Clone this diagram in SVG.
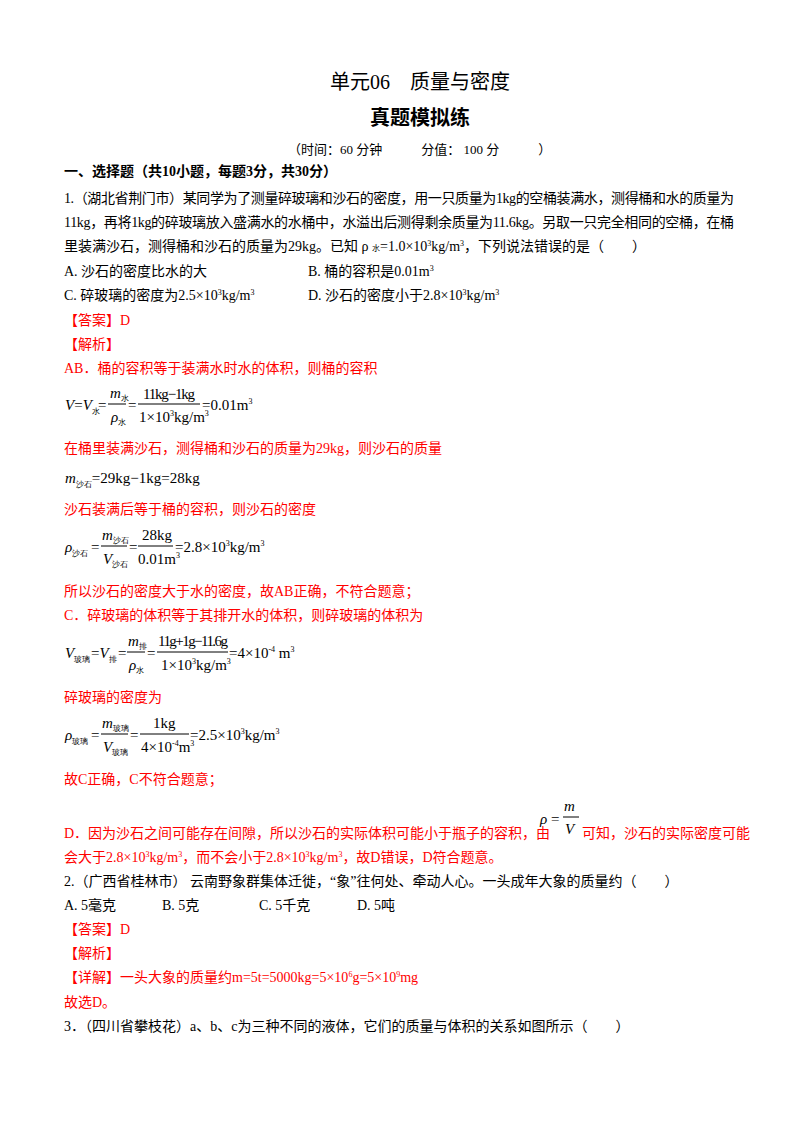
<svg xmlns="http://www.w3.org/2000/svg" width="800" height="1132" viewBox="0 0 800 1132">
<style>
text{font-family:"Liberation Serif","Noto Sans CJK SC",serif;font-size:14px;fill:#000}
.r{fill:#f00}
.b{font-weight:bold}
.m{font-family:"Liberation Serif",serif;font-size:15px}
.i{font-style:italic}
.s{font-size:8px;font-style:normal}
line{stroke:#000;stroke-width:1}
</style>
<rect width="800" height="1132" fill="#fff"/>
<g id="header">
<text x="420" y="89" text-anchor="middle" style="font-size:20px">单元06　质量与密度</text>
<text x="420" y="125" text-anchor="middle" class="b" style="font-size:20px">真题模拟练</text>
<text x="288" y="154" style="font-size:13px">（时间：60 分钟　　　分值： 100 分　　　）</text>
<text x="64" y="176" class="b">一、选择题（共10小题，每题3分，共30分）</text>
</g>
<g id="q1">
<text x="64" y="203" textLength="670">1.（湖北省荆门市）某同学为了测量碎玻璃和沙石的密度，用一只质量为1kg的空桶装满水，测得桶和水的质量为</text>
<text x="64" y="227" textLength="670">11kg，再将1kg的碎玻璃放入盛满水的水桶中，水溢出后测得剩余质量为11.6kg。另取一只完全相同的空桶，在桶</text>
<text x="64" y="251">里装满沙石，测得桶和沙石的质量为29kg。已知 ρ <tspan class="s">水</tspan>=1.0×10<tspan class="s" dy="-5">3</tspan><tspan dy="5">kg/m</tspan><tspan class="s" dy="-5">3</tspan><tspan dy="5">，下列说法错误的是（　　）</tspan></text>
<text x="64" y="276">A.  沙石的密度比水的大</text>
<text x="308" y="276">B.  桶的容积是0.01m<tspan class="s" dy="-5">3</tspan></text>
<text x="64" y="300">C.  碎玻璃的密度为2.5×10<tspan class="s" dy="-5">3</tspan><tspan dy="5">kg/m</tspan><tspan class="s" dy="-5">3</tspan></text>
<text x="308" y="300">D.  沙石的密度小于2.8×10<tspan class="s" dy="-5">3</tspan><tspan dy="5">kg/m</tspan><tspan class="s" dy="-5">3</tspan></text>
<text x="64" y="325" class="r">【答案】D</text>
<text x="64" y="349" class="r">【解析】</text>
<text x="64" y="373" class="r">AB．桶的容积等于装满水时水的体积，则桶的容积</text>
</g>
<g id="formulas">
<text x="65" y="410" class="m"><tspan class="i">V</tspan>=<tspan class="i">V</tspan><tspan class="s" dy="4">水</tspan></text>
<text x="98" y="410" class="m">=</text>
<text x="110" y="398" class="m i">m<tspan class="s" dy="3">水</tspan></text>
<line x1="108" y1="404" x2="126" y2="404"/>
<text x="111" y="422" class="m i">ρ<tspan class="s" dy="3">水</tspan></text>
<text x="128" y="410" class="m">=</text>
<text x="143" y="399" class="m" textLength="52">11kg−1kg</text>
<line x1="138" y1="404" x2="200" y2="404"/>
<text x="139" y="422" class="m">1×10<tspan class="s" dy="-6">3</tspan><tspan dy="6">kg/m</tspan><tspan class="s" dy="-6">3</tspan></text>
<text x="202" y="410" class="m">=0.01m<tspan class="s" dy="-6">3</tspan></text>

<text x="64" y="453" class="r">在桶里装满沙石，测得桶和沙石的质量为29kg，则沙石的质量</text>
<text x="65" y="483" class="m"><tspan class="i">m</tspan><tspan class="s" dy="4">沙石</tspan><tspan dy="-4">=29kg−1kg=28kg</tspan></text>
<text x="64" y="514" class="r">沙石装满后等于桶的容积，则沙石的密度</text>

<text x="65" y="552" class="m i">ρ<tspan class="s" dy="4">沙石</tspan></text>
<text x="91" y="552" class="m">=</text>
<text x="102" y="540" class="m i">m<tspan class="s" dy="3">沙石</tspan></text>
<line x1="101" y1="546" x2="127" y2="546"/>
<text x="103" y="564" class="m i">V<tspan class="s" dy="3">沙石</tspan></text>
<text x="129" y="552" class="m">=</text>
<text x="142" y="540" class="m">28kg</text>
<line x1="138" y1="546" x2="173" y2="546"/>
<text x="138" y="564" class="m">0.01m<tspan class="s" dy="-6">3</tspan></text>
<text x="175" y="552" class="m">=2.8×10<tspan class="s" dy="-6">3</tspan><tspan dy="6">kg/m</tspan><tspan class="s" dy="-6">3</tspan></text>

<text x="64" y="596" class="r">所以沙石的密度大于水的密度，故AB正确，不符合题意；</text>
<text x="64" y="620" class="r">C．碎玻璃的体积等于其排开水的体积，则碎玻璃的体积为</text>

<text x="65" y="658" class="m i">V<tspan class="s" dy="4">玻璃</tspan></text>
<text x="91" y="658" class="m">=<tspan class="i">V</tspan><tspan class="s" dy="4">排</tspan></text>
<text x="118" y="658" class="m">=</text>
<text x="128" y="646" class="m i">m<tspan class="s" dy="3">排</tspan></text>
<line x1="127" y1="652" x2="145" y2="652"/>
<text x="129" y="670" class="m i">ρ<tspan class="s" dy="3">水</tspan></text>
<text x="147" y="658" class="m">=</text>
<text x="158" y="646" class="m" textLength="70">11g+1g−11.6g</text>
<line x1="157" y1="652" x2="228" y2="652"/>
<text x="161" y="670" class="m">1×10<tspan class="s" dy="-6">3</tspan><tspan dy="6">kg/m</tspan><tspan class="s" dy="-6">3</tspan></text>
<text x="229" y="658" class="m">=4×10<tspan class="s" dy="-6">-4</tspan><tspan dy="6"> m</tspan><tspan class="s" dy="-6">3</tspan></text>

<text x="64" y="702" class="r">碎玻璃的密度为</text>

<text x="65" y="740" class="m i">ρ<tspan class="s" dy="4">玻璃</tspan></text>
<text x="91" y="740" class="m">=</text>
<text x="102" y="728" class="m i">m<tspan class="s" dy="3">玻璃</tspan></text>
<line x1="101" y1="734" x2="128" y2="734"/>
<text x="103" y="752" class="m i">V<tspan class="s" dy="3">玻璃</tspan></text>
<text x="130" y="740" class="m">=</text>
<text x="153" y="728" class="m">1kg</text>
<line x1="140" y1="734" x2="189" y2="734"/>
<text x="141" y="752" class="m">4×10<tspan class="s" dy="-6">-4</tspan><tspan dy="6">m</tspan><tspan class="s" dy="-6">3</tspan></text>
<text x="190" y="740" class="m">=2.5×10<tspan class="s" dy="-6">3</tspan><tspan dy="6">kg/m</tspan><tspan class="s" dy="-6">3</tspan></text>

<text x="64" y="784" class="r">故C正确，C不符合题意；</text>

<text x="540" y="824" class="m i">ρ</text>
<text x="551" y="824" class="m">=</text>
<text x="564" y="811" class="m i">m</text>
<line x1="563" y1="817" x2="579" y2="817"/>
<text x="565" y="834" class="m i">V</text>
</g>
<g id="q1d">
<text x="64" y="838" class="r">D．因为沙石之间可能存在间隙，所以沙石的实际体积可能小于瓶子的容积，由</text>
<text x="582" y="838" class="r">可知，沙石的实际密度可能</text>
<text x="64" y="862" class="r">会大于2.8×10<tspan class="s" dy="-5">3</tspan><tspan dy="5">kg/m</tspan><tspan class="s" dy="-5">3</tspan><tspan dy="5">，而不会小于2.8×10</tspan><tspan class="s" dy="-5">3</tspan><tspan dy="5">kg/m</tspan><tspan class="s" dy="-5">3</tspan><tspan dy="5">，故D错误，D符合题意。</tspan></text>
</g>
<g id="q2">
<text x="64" y="886">2.（广西省桂林市） 云南野象群集体迁徙，“象”往何处、牵动人心。一头成年大象的质量约（　　）</text>
<text x="64" y="910">A.  5毫克</text>
<text x="162" y="910">B.  5克</text>
<text x="259" y="910">C.  5千克</text>
<text x="357" y="910">D.  5吨</text>
<text x="64" y="934" class="r">【答案】D</text>
<text x="64" y="958" class="r">【解析】</text>
<text x="64" y="982" class="r">【详解】一头大象的质量约m=5t=5000kg=5×10<tspan class="s" dy="-5">6</tspan><tspan dy="5">g=5×10</tspan><tspan class="s" dy="-5">9</tspan><tspan dy="5">mg</tspan></text>
<text x="64" y="1007" class="r">故选D。</text>
</g>
<g id="q3">
<text x="64" y="1031">3．（四川省攀枝花）a、b、c为三种不同的液体，它们的质量与体积的关系如图所示（　　）</text>
</g>
</svg>
